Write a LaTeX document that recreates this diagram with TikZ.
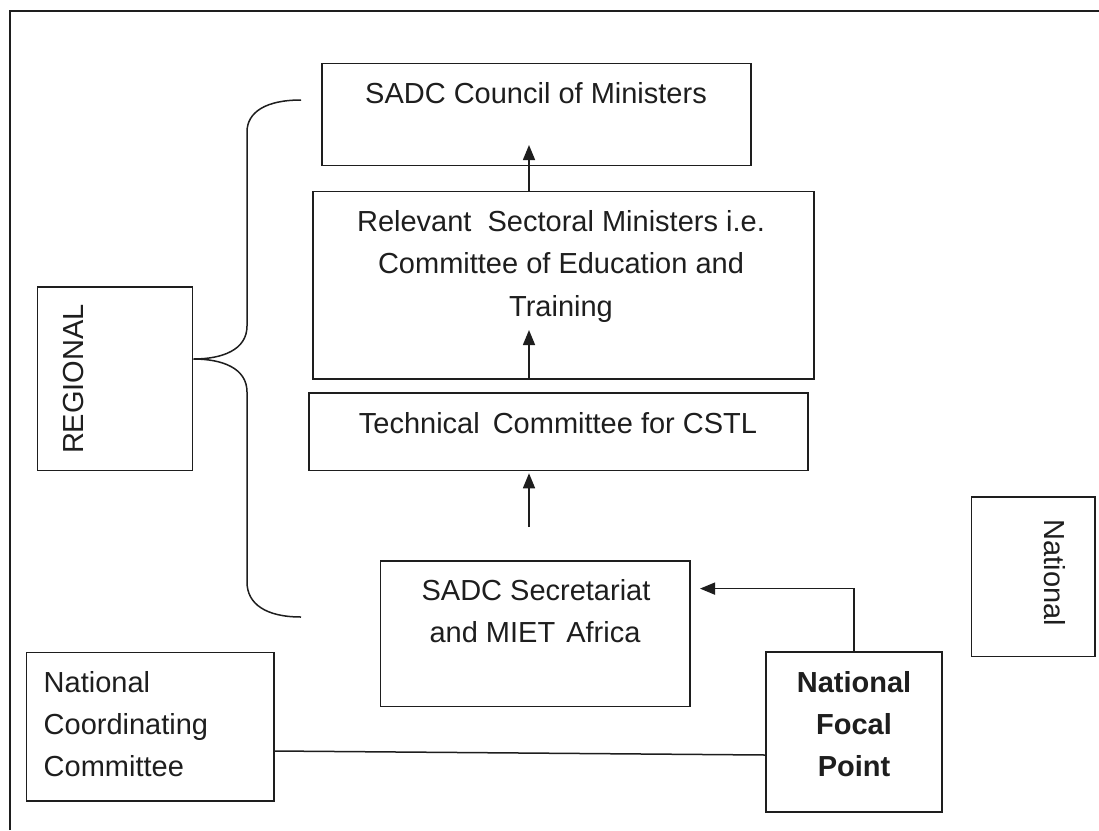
\documentclass[tikz,border=0pt]{standalone}
\usepackage{fontspec}
\setmainfont{Liberation Sans}
\usetikzlibrary{arrows.meta}
\definecolor{ink}{HTML}{1E1E1E}
\tikzset{
  box/.style={draw=ink, line width=1.5pt, rectangle, inner sep=0pt, fill=white},
  txt/.style={anchor=base, inner sep=0pt, text=ink, font=\fontsize{29}{42}\selectfont},
  btxt/.style={txt, font=\fontsize{29}{42}\selectfont\bfseries},
  conn/.style={draw=ink, line width=1.5pt},
  arr/.style={conn, -{Triangle[length=15pt,width=12pt]}}
}
\begin{document}
\begin{tikzpicture}[x=1pt,y=-1pt]
\useasboundingbox (0,0) rectangle (1099,830);
\fill[white] (0,0) rectangle (1099,830);
% outer frame (left and top edges visible)
\draw[draw=ink, line width=2pt] (10,830) -- (10,10.7) -- (1099,10.7);

% boxes
\node[box, minimum width=429pt, minimum height=102pt] (council) at (536.5,114.5) {};
\node[box, minimum width=501pt, minimum height=187.5pt] (relevant) at (563.5,285.25) {};
\node[box, minimum width=499pt, minimum height=77.5pt] (technical) at (558.5,431.75) {};
\node[box, minimum width=309.4pt, minimum height=145.6pt] (secretariat) at (535.3,633.8) {};
\node[box, minimum width=176pt, minimum height=160pt] (nfp) at (854,732) {};
\node[box, minimum width=123.3pt, minimum height=159.7pt] (national) at (1033.35,576.85) {};
\node[box, minimum width=155.4pt, minimum height=183.7pt] (regional) at (115,378.85) {};
\node[box, minimum width=247.4pt, minimum height=148.4pt] (ncc) at (150.3,726.8) {};

% texts
\node[txt] (tcouncil) at (536,103) {SADC Council of Ministers};
\node[txt] (trel1) at (561,231) {Relevant\ \ Sectoral Ministers i.e.};
\node[txt] (trel2) at (561,273.5) {Committee of Education and};
\node[txt] (trel3) at (561,316) {Training};
\node[txt] (ttech) at (558,433) {Technical\hspace{5pt} Committee for CSTL};
\node[txt] (tsec1) at (536,600) {SADC Secretariat};
\node[txt] (tsec2) at (535,642.5) {and MIET\hspace{3pt} Africa};
\node[btxt] (tnfp1) at (854,692) {National};
\node[btxt] (tnfp2) at (854,734) {Focal};
\node[btxt] (tnfp3) at (854,776) {Point};
\node[txt, anchor=base west] (tncc1) at (43.5,692) {National};
\node[txt, anchor=base west] (tncc2) at (43.5,734) {Coordinating};
\node[txt, anchor=base west] (tncc3) at (43.5,776) {Committee};
\node[txt, anchor=center, rotate=90] (tregional) at (74,379) {REGIONAL};
\node[txt, anchor=center, rotate=-90] (tnational) at (1054.5,573) {National};

% arrows
\coordinate (t1) at (529,145);
\draw[arr] (t1 |- relevant.north) -- (t1);
\coordinate (t2) at (529,330);
\draw[arr] (t2 |- relevant.south) -- (t2);
\coordinate (s3) at (529,527);
\draw[arr] (s3) -- ([yshift=-2pt]s3 |- technical.south);
\coordinate (t4) at (700,588.6);
\draw[arr] (nfp.north) |- (t4);

% line between national coordinating committee and focal point
\draw[conn] ([yshift=-24.2pt]ncc.east) -- ([yshift=-23pt]nfp.west);

% brace
\coordinate (tip) at (regional.east |- 0,359);
\draw[conn] (301,100) .. controls (266,100) and (247,112) .. (247,132)
  -- (247,326) .. controls (247,350) and (222,359) .. (tip)
  .. controls (222,359) and (247,368) .. (247,392)
  -- (247,582) .. controls (247,604) and (266,617) .. (301,617);
\end{tikzpicture}
\end{document}
